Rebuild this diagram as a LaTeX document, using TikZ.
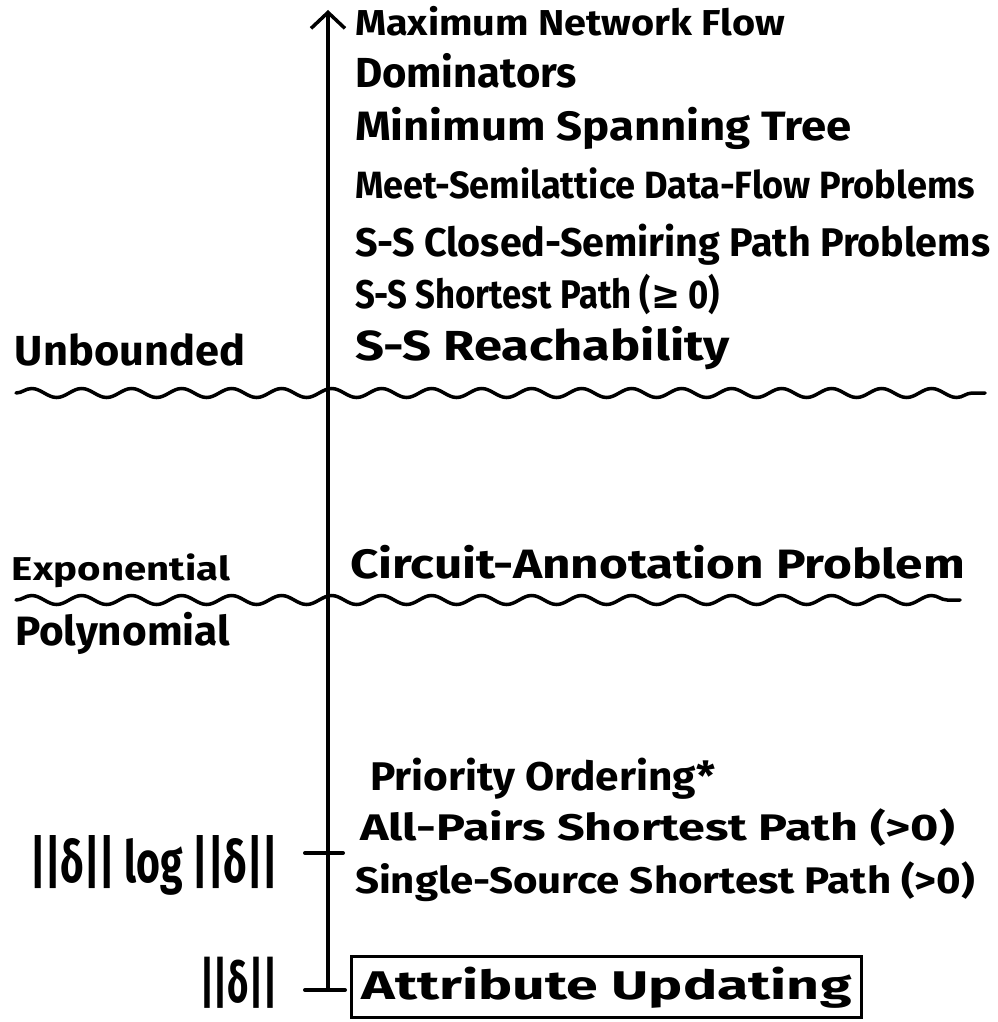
\documentclass[tikz,border=0pt]{standalone}
\usepackage{fontspec}
\setmainfont{Fira Sans}
\newfontfamily\symfont{DejaVu Sans}
\usetikzlibrary{arrows.meta,decorations.pathmorphing}

% bold text of a given size, stretched to a given width
\newcommand{\hand}[3]{\fontsize{#1}{#1}\selectfont\bfseries\resizebox{#2}{\height}{#3}}

\tikzset{
  lbl/.style={anchor=base west, inner sep=0pt, outer sep=0pt},
  wave/.style={line width=3.5pt, line cap=round,
    decorate, decoration={snake, segment length=50pt, amplitude=4.5pt}},
  axisline/.style={line width=4pt, -{Straight Barb[length=16pt, width=34pt, line width=3.5pt]}},
  tick/.style={line width=4pt, line cap=round},
  boxed/.style={draw, line width=3pt, inner xsep=10pt, inner ysep=10pt}
}

\begin{document}
\begin{tikzpicture}[x=1pt, y=-1pt]
\useasboundingbox (0,0) rectangle (997,1022);

% vertical axis with its two ticks
\coordinate (axisbot) at (328,990);
\coordinate (axistop) at (328,10);
\draw[axisline] (axisbot) -- (axistop);
\coordinate (tkAl) at (305,853);
\coordinate (tkAr) at (343,853);
\coordinate (tkBl) at (305,990);
\coordinate (tkBr) at (345,990);
\draw[tick] (tkAl) -- (tkAr);
\draw[tick] (tkBl) -- (tkBr);

% boundaries between the classes
\coordinate (w1a) at (16,393);
\coordinate (w1b) at (985,393);
\coordinate (w2a) at (16,600);
\coordinate (w2b) at (960,600);
\draw[wave] (w1a) -- (w1b);
\draw[wave] (w2a) -- (w2b);

% problems, right of the axis
\node[lbl] (maxflow) at (355,36) {\hand{36pt}{430pt}{Maximum Network Flow}};
\node[lbl] (domin)   at (355,88) {\hand{42pt}{222pt}{Dominators}};
\node[lbl] (mst)     at (355,141) {\hand{41pt}{497pt}{Minimum Spanning Tree}};
\node[lbl] (meet)    at (355,198) {\hand{38pt}{620pt}{Meet-Semilattice Data-Flow Problems}};
\node[lbl] (closed)  at (355,256) {\hand{40pt}{635pt}{S-S Closed-Semiring Path Problems}};
\node[lbl] (sspath)  at (355,308) {\hand{40pt}{365pt}{S-S Shortest Path ({\symfont ≥} 0)}};
\node[lbl] (reach)   at (355,360) {\hand{42pt}{375pt}{S-S Reachability}};
\node[lbl] (circuit) at (350,578) {\hand{41pt}{615pt}{Circuit-Annotation Problem}};
\node[lbl] (prio)    at (370,790) {\hand{40pt}{345pt}{Priority Ordering*}};
\node[lbl] (apsp)    at (360,840) {\hand{37pt}{595pt}{All-Pairs Shortest Path (>0)}};
\node[lbl] (sssp)    at (355,893) {\hand{37pt}{620pt}{Single-Source Shortest Path (>0)}};
\node[boxed, anchor=base west] (attr) at (350,999) {\hand{40pt}{490pt}{Attribute Updating}};

% complexity classes, left of the axis
\node[lbl] (unb)  at (15,365) {\hand{42pt}{230pt}{Unbounded}};
\node[lbl] (expo) at (12,580) {\hand{33pt}{218pt}{Exponential}};
\node[lbl] (poly) at (15,645) {\hand{41pt}{215pt}{Polynomial}};
\node[lbl] (nlogn) at (30,882) {\hand{58pt}{248pt}{||δ|| log ||δ||}};
\node[lbl] (nlin)  at (200,1002) {\hand{56pt}{77pt}{||δ||}};
\end{tikzpicture}
\end{document}
